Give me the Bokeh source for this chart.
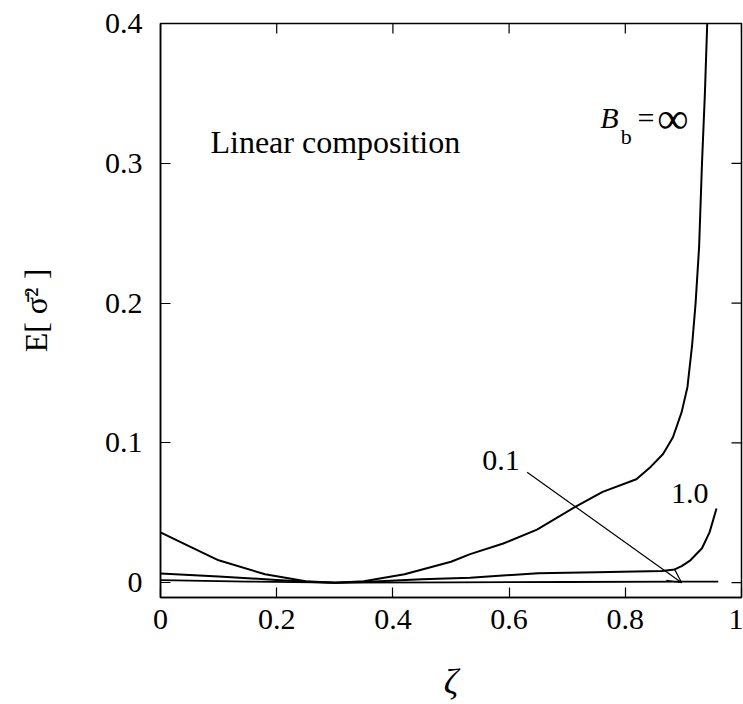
import math
from bokeh.plotting import figure
from bokeh.models import (Range1d, FixedTicker, PrintfTickFormatter,
                          Label, Arrow, OpenHead)
from bokeh.embed import file_html
from bokeh.resources import INLINE

# ---------------- data ----------------
x_ticks = [0, 0.2, 0.4, 0.6, 0.8, 1.0]
y_ticks = [0, 0.1, 0.2, 0.3, 0.4]

# B_b = infinity
inf_x = [0.0, 0.04, 0.10, 0.18, 0.25, 0.30, 0.35, 0.42, 0.50, 0.533, 0.59, 0.648,
         0.713, 0.761, 0.819, 0.844, 0.865, 0.882, 0.897, 0.907, 0.915, 0.921,
         0.927, 0.932, 0.937, 0.941]
inf_y = [0.036, 0.028, 0.016, 0.006, 0.001, 0.0, 0.001, 0.006, 0.015, 0.0204, 0.028,
         0.038, 0.054, 0.065, 0.074, 0.083, 0.092, 0.104, 0.122, 0.14, 0.17, 0.20,
         0.24, 0.30, 0.35, 0.40]

# B_b = 1.0
one_x = [0.0, 0.1, 0.2, 0.26, 0.30, 0.35, 0.45, 0.533, 0.65, 0.75, 0.863, 0.885,
         0.897, 0.912, 0.932, 0.945, 0.957]
one_y = [0.0066, 0.0045, 0.002, 0.0005, 0.0, 0.0005, 0.0025, 0.0035, 0.0068, 0.0075,
         0.0083, 0.0095, 0.0118, 0.016, 0.0246, 0.036, 0.053]

# B_b = 0.1
pt1_x = [0.0, 0.15, 0.30, 0.50, 0.70, 0.90, 0.96]
pt1_y = [0.0018, 0.0008, 0.0, 0.0002, 0.0005, 0.0008, 0.0008]

# arrow for the 0.1 label
arrow_start = (0.631, 0.079)
arrow_end = (0.897, 0.0)

SERIF = "Liberation Serif"
X0, X1 = 0.0, 1.0
Y0, Y1 = -0.0106, 0.4

p = figure(width=743, height=704, output_backend="svg", toolbar_location=None,
           x_range=Range1d(X0, X1), y_range=Range1d(Y0, Y1),
           min_border_left=160, min_border_right=2, min_border_top=23,
           min_border_bottom=102)
p.grid.visible = False
p.background_fill_color = "white"
p.border_fill_color = "white"
p.outline_line_color = "black"
p.outline_line_width = 1.5

for ax in (p.xaxis[0], p.yaxis[0]):
    ax.major_tick_in = 10
    ax.major_tick_out = 0
    ax.minor_tick_line_color = None
    ax.axis_line_width = 1.5
    ax.major_tick_line_width = 1.2
    ax.major_label_text_font = SERIF
    ax.major_label_text_font_size = "30px"
    ax.major_label_text_color = "black"
    ax.axis_label_text_font = SERIF
    ax.axis_label_text_color = "black"
    ax.formatter = PrintfTickFormatter(format="%g")

p.xaxis[0].ticker = FixedTicker(ticks=x_ticks)
p.yaxis[0].ticker = FixedTicker(ticks=y_ticks)
p.xaxis[0].major_label_standoff = 12
p.yaxis[0].major_label_standoff = 18
p.xaxis[0].axis_label = "ζ"
p.xaxis[0].axis_label_text_font_size = "36px"
p.xaxis[0].axis_label_text_font_style = "italic"
p.xaxis[0].axis_label_standoff = 30
p.yaxis[0].axis_label = "E[ σ̄² ]"
p.yaxis[0].axis_label_text_font_size = "32px"
p.yaxis[0].axis_label_text_font_style = "normal"
p.yaxis[0].axis_label_standoff = 48

# mirrored inward ticks on the top and right frame edges
p.ray(x=x_ticks, y=[Y1] * len(x_ticks), length=10, length_units="screen",
      angle=-math.pi / 2, line_color="black", line_width=1.2)
p.ray(x=[X1] * len(y_ticks), y=y_ticks, length=10, length_units="screen",
      angle=math.pi, line_color="black", line_width=1.2)

# curves
p.line(inf_x, inf_y, line_color="black", line_width=2)
p.line(one_x, one_y, line_color="black", line_width=2)
p.line(pt1_x, pt1_y, line_color="black", line_width=1.8)

p.add_layout(Arrow(end=OpenHead(size=14, line_width=1.2, line_color="black"),
                   x_start=arrow_start[0], y_start=arrow_start[1],
                   x_end=arrow_end[0], y_end=arrow_end[1],
                   line_width=1.2, line_color="black"))

def lab(x, y, text, size="30px", style="normal", align="left", baseline="alphabetic"):
    p.add_layout(Label(x=x, y=y, text=text, text_font=SERIF, text_font_size=size,
                       text_font_style=style, text_align=align, text_baseline=baseline,
                       text_color="black"))

lab(0.086, 0.315, "Linear composition", size="32px")
lab(0.586, 0.0875, "0.1", align="center", baseline="middle")
lab(0.911, 0.0637, "1.0", align="center", baseline="middle")
lab(0.757, 0.333, "B", style="italic")
lab(0.792, 0.319, "b", size="22px")
lab(0.821, 0.333, "=")
lab(0.855, 0.332, "∞", size="44px")

open("out.html", "w").write(file_html(p, INLINE))
